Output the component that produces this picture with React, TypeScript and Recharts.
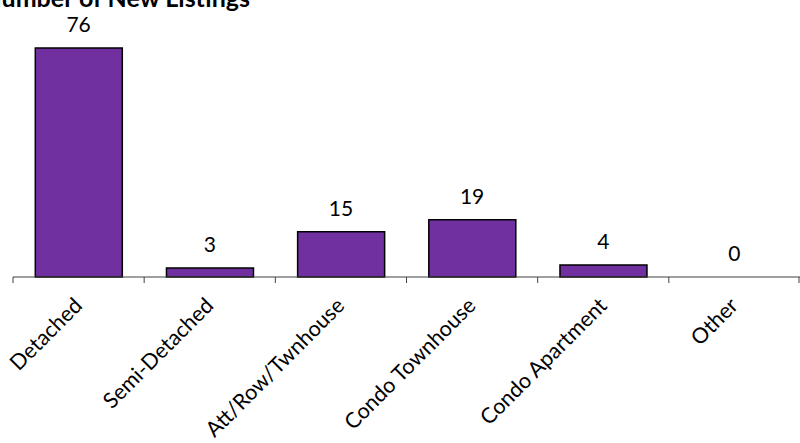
import { ComposedChart, Bar, Line, XAxis, YAxis, LabelList } from "recharts";

const categories = [
  "Detached",
  "Semi-Detached",
  "Att/Row/Twnhouse",
  "Condo Townhouse",
  "Condo Apartment",
  "Other",
];
const listings = [76, 3, 15, 19, 4, 0];
const title = "Number of New Listings";

const data = categories.map((name, i) => ({ name, value: listings[i] }));

const font = "Lato, 'Open Sans', sans-serif";
const chartW = 800;
const leftPad = 13;
const band = (chartW - leftPad) / categories.length;

// Excel-style ticks sit between categories, not at their centres
function CategoryTick(props: any) {
  const { x, y, payload, index } = props;
  const left = x - band / 2;
  const right = x + band / 2;
  const tx = x + 5;
  const ty = y + 30;
  return (
    <g>
      <line x1={left} y1={y} x2={left} y2={y + 6} stroke="#404040" />
      {index === categories.length - 1 && (
        <line x1={right - 1} y1={y} x2={right - 1} y2={y + 6} stroke="#404040" />
      )}
      <text
        x={tx}
        y={ty}
        transform={`rotate(-45, ${tx}, ${ty})`}
        textAnchor="end"
        fontSize={21.5}
        fontFamily={font}
        fill="#000"
      >
        {payload.value}
      </text>
    </g>
  );
}

export default function App() {
  return (
    <div
      style={{
        position: "fixed",
        left: 0,
        top: 0,
        width: 800,
        height: 443,
        overflow: "hidden",
        background: "#fff",
        fontFamily: font,
      }}
    >
      <div
        style={{
          position: "absolute",
          right: 550,
          top: -15,
          fontSize: 25,
          lineHeight: "25px",
          fontWeight: 700,
          whiteSpace: "nowrap",
          color: "#000",
        }}
      >
        {title}
      </div>
      <ComposedChart
        width={chartW}
        height={443}
        data={data}
        margin={{ top: 48, right: 0, left: leftPad, bottom: 0 }}
        barCategoryGap="17%"
      >
        <YAxis hide domain={[0, 76]} />
        <XAxis
          dataKey="name"
          interval={0}
          height={166}
          tickSize={0}
          tickMargin={0}
          tickLine={false}
          stroke="#404040"
          tick={<CategoryTick />}
        />
        <Bar dataKey="value" fill="#7030A0" stroke="#000" strokeWidth={1.5} isAnimationActive={false} />
        <Line
          dataKey="value"
          stroke="none"
          dot={false}
          activeDot={false}
          isAnimationActive={false}
        >
          <LabelList
            dataKey="value"
            position="top"
            offset={16}
            style={{ fontSize: 21, fill: "#000", fontFamily: font }}
          />
        </Line>
      </ComposedChart>
    </div>
  );
}
